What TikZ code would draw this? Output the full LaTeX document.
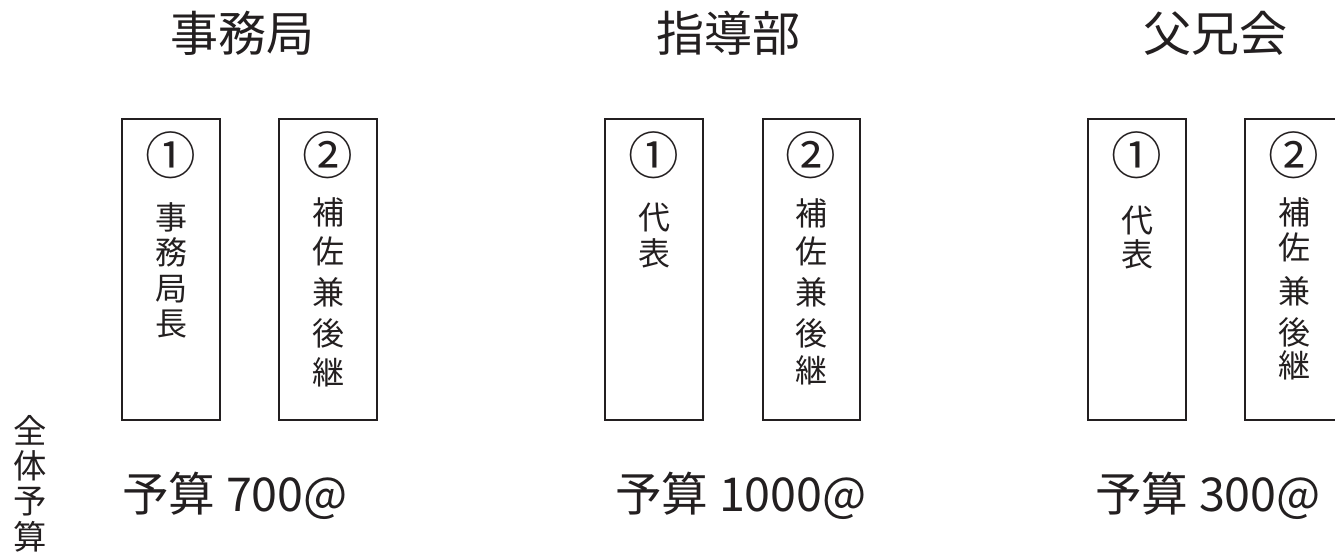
\documentclass[tikz,border=0pt]{standalone}
\usepackage{fontspec}
\newfontfamily\cjk{Noto Sans CJK JP}
\definecolor{ink}{HTML}{231F20}
\tikzset{
  box/.style={draw=ink, line width=2pt},
  ch/.style={inner sep=0pt, text=ink, text height=0.88em, text depth=0.12em, font=\cjk\fontsize{24}{24}\selectfont},
  num/.style={inner sep=0pt, text=ink, text height=0.88em, text depth=0.12em, font=\cjk\fontsize{38}{38}\selectfont},
  title/.style={inner sep=0pt, text=ink, text height=0.88em, text depth=0.12em, font=\cjk\fontsize{36}{36}\selectfont},
  budget/.style={inner sep=0pt, text=ink, font=\cjk\fontsize{35}{35}\selectfont},
  whole/.style={inner sep=0pt, text=ink, text height=0.88em, text depth=0.12em, font=\cjk\fontsize{25}{25}\selectfont},
}
\begin{document}
\begin{tikzpicture}[x=0.75pt,y=-0.75pt]
\useasboundingbox (0,0) rectangle (1335,556);
\clip (0,0) rectangle (1335,556);
% titles
\node[title] (t1) at (242,46) {事務局};
\node[title] (t2) at (728,46) {指導部};
\node[title] (t3) at (1215,46) {父兄会};
% boxes
\draw[box] (122,119) rectangle (220,420) coordinate (b1a);
\draw[box] (279,119) rectangle (377,420) coordinate (b1b);
\draw[box] (605,119) rectangle (703,420) coordinate (b2a);
\draw[box] (763,119) rectangle (860,420) coordinate (b2b);
\draw[box] (1088,119) rectangle (1186,420) coordinate (b3a);
\draw[box] (1245,119) rectangle (1345,420) coordinate (b3b);
% circled numbers
\node[num] (n1a) at (171,169) {①};
\node[num] (n1b) at (328,169) {②};
\node[num] (n2a) at (654,169) {①};
\node[num] (n2b) at (811,169) {②};
\node[num] (n3a) at (1137,169) {①};
\node[num] (n3b) at (1294,169) {②};
% vertical texts
\foreach \c/\y [count=\i] in {事/224,務/259,局/295,長/330}
  \node[ch] (g1a-\i) at (171,\y) {\c};
\foreach \c/\y [count=\i] in {補/219,佐/258,兼/299,後/340,継/379}
  \node[ch] (g1b-\i) at (328,\y) {\c};
\foreach \c/\y [count=\i] in {代/224,表/260}
  \node[ch] (g2a-\i) at (654,\y) {\c};
\foreach \c/\y [count=\i] in {補/220,佐/258,兼/299,後/340,継/377}
  \node[ch] (g2b-\i) at (811,\y) {\c};
\foreach \c/\y [count=\i] in {代/227,表/261}
  \node[ch] (g3a-\i) at (1137,\y) {\c};
\foreach \c/\y [count=\i] in {補/219,佐/254,兼/298,後/339,継/372}
  \node[ch] (g3b-\i) at (1294,\y) {\c};
% budgets
\node[budget, anchor=base west] (p1) at (122,511) {予算 700@};
\node[budget, anchor=base west] (p2) at (615,511) {予算 1000@};
\node[budget, anchor=base west] (p3) at (1095,511) {予算 300@};
% whole budget
\foreach \c/\y [count=\i] in {全/438,体/473,予/508,算/544}
  \node[whole] (w-\i) at (30,\y) {\c};
\end{tikzpicture}
\end{document}
